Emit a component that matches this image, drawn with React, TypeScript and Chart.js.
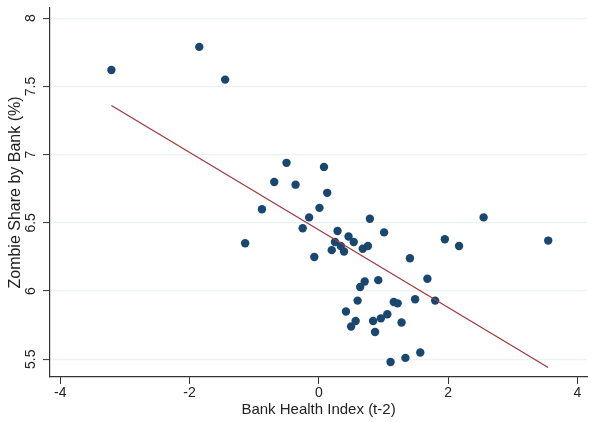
import { useEffect, useRef } from "react"
import { Chart, registerables } from "chart.js"

Chart.register(...registerables)

const bankHealth = [
  -3.21, -1.85, -1.45, -0.5, 0.08, -0.69, -0.36, 0.13, -0.88, 0.01, -0.15,
  -0.25, 0.79, -1.14, 0.29, 1.01, 0.25, 0.46, 0.54, 0.34, 0.2, 0.39, -0.07,
  0.68, 0.76, 1.95, 2.17, 2.55, 3.55, 1.41, 1.68, 1.8, 1.49, 0.92, 0.71, 0.64,
  0.6, 1.16, 1.22, 0.42, 1.06, 0.96, 0.84, 0.57, 1.28, 0.5, 0.87, 1.11, 1.34,
  1.57,
]
const zombieShare = [
  7.62, 7.79, 7.55, 6.94, 6.91, 6.8, 6.78, 6.72, 6.6, 6.61, 6.54, 6.46, 6.53,
  6.35, 6.44, 6.43, 6.36, 6.4, 6.36, 6.33, 6.3, 6.29, 6.25, 6.31, 6.33, 6.38,
  6.33, 6.54, 6.37, 6.24, 6.09, 5.93, 5.94, 6.08, 6.07, 6.03, 5.93, 5.92, 5.91,
  5.85, 5.83, 5.8, 5.78, 5.78, 5.77, 5.74, 5.7, 5.48, 5.51, 5.55,
]

// fitted line endpoints
const fitX = [-3.21, 3.55]
const fitY = [7.36, 5.44]

const xTicks = [-4, -2, 0, 2, 4]
const yTicks = [5.5, 6, 6.5, 7, 7.5, 8]

const FONT = "'Liberation Sans', Arial, sans-serif"

export default function App() {
  const canvasRef = useRef<HTMLCanvasElement>(null)
  const chartRef = useRef<Chart | null>(null)

  useEffect(() => {
    if (!canvasRef.current) return
    const ctx = canvasRef.current.getContext("2d")
    if (!ctx) return
    if (chartRef.current) chartRef.current.destroy()

    chartRef.current = new Chart(ctx, {
      type: "scatter",
      data: {
        datasets: [
          {
            type: "line",
            label: "Fitted values",
            data: fitX.map((x, i) => ({ x, y: fitY[i] })),
            borderColor: "#9c3b3f",
            borderWidth: 1.3,
            pointRadius: 0,
            fill: false,
            order: 0,
          },
          {
            type: "scatter",
            label: "Zombie share",
            data: bankHealth.map((x, i) => ({ x, y: zombieShare[i] })),
            backgroundColor: "#1a476f",
            borderColor: "#1a476f",
            borderWidth: 0,
            pointRadius: 4.2,
            order: 1,
          },
        ],
      },
      options: {
        animation: false,
        responsive: true,
        maintainAspectRatio: false,
        layout: { padding: { top: 8, right: 7, left: 0, bottom: 0 } },
        plugins: {
          legend: { display: false },
          tooltip: { enabled: false },
        },
        scales: {
          x: {
            type: "linear",
            min: -4.16,
            max: 4.15,
            afterBuildTicks: (s: any) => {
              s.ticks = xTicks.map((v) => ({ value: v }))
            },
            afterFit: (s: any) => {
              s.height = 45
              s.paddingLeft = 0
              s.paddingRight = 0
            },
            ticks: {
              includeBounds: false,
              color: "#222",
              padding: 1,
              font: { family: FONT, size: 14 },
              maxRotation: 0,
              callback: (v: any) => String(v),
            },
            grid: {
              drawOnChartArea: false,
              drawTicks: true,
              tickLength: 7,
              tickColor: "#333",
              tickWidth: 1,
            },
            border: { display: true, color: "#333", width: 1.2 },
            title: {
              display: true,
              text: "Bank Health Index (t-2)",
              color: "#222",
              font: { family: FONT, size: 15 },
              padding: { top: 0, bottom: 3 },
            },
          },
          y: {
            type: "linear",
            min: 5.37,
            max: 8.075,
            afterBuildTicks: (s: any) => {
              s.ticks = yTicks.map((v) => ({ value: v }))
            },
            afterFit: (s: any) => {
              s.width = 50
              s.paddingTop = 0
              s.paddingBottom = 0
            },
            ticks: {
              includeBounds: false,
              color: "#222",
              padding: 2,
              minRotation: 90,
              maxRotation: 90,
              crossAlign: "center",
              font: { family: FONT, size: 14 },
              callback: (v: any) => String(v),
            },
            grid: {
              color: "#eaf2f3",
              lineWidth: 1.2,
              drawTicks: true,
              tickLength: 7,
              tickColor: "#333",
              tickWidth: 1,
            },
            border: { display: true, color: "#333", width: 1.2 },
            title: {
              display: true,
              text: "Zombie Share by Bank (%)",
              color: "#222",
              font: { family: FONT, size: 16 },
              padding: { top: 6, bottom: 0 },
            },
          },
        },
      },
    })

    return () => {
      if (chartRef.current) {
        chartRef.current.destroy()
        chartRef.current = null
      }
    }
  }, [])

  return (
    <div
      style={{
        position: "absolute",
        left: 0,
        top: 0,
        width: 594,
        height: 422,
        background: "#ffffff",
      }}
    >
      <canvas ref={canvasRef}></canvas>
    </div>
  )
}
